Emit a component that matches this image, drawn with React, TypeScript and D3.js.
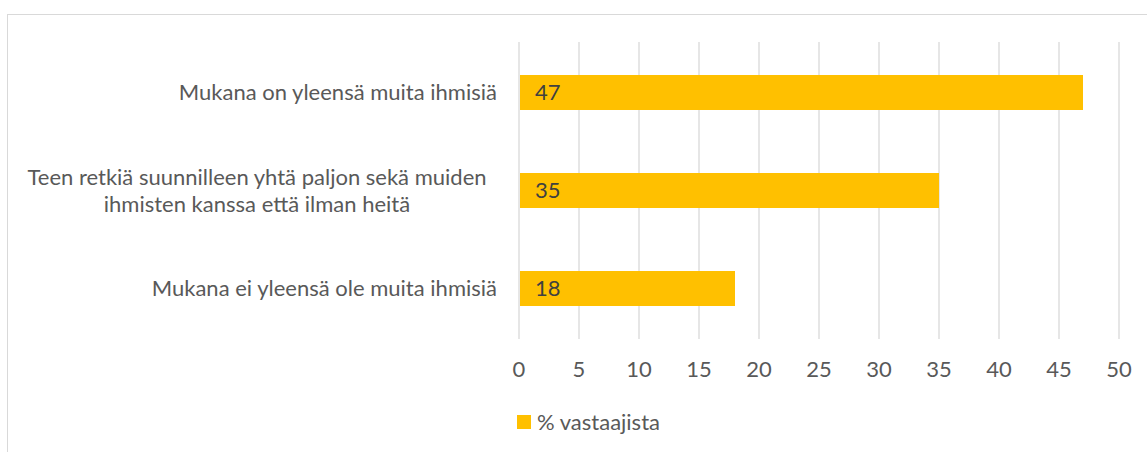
import React from "react";
import * as d3 from "d3";

const categories: string[][] = [
  ["Mukana on yleensä muita ihmisiä"],
  ["Teen retkiä suunnilleen yhtä paljon sekä muiden", "ihmisten kanssa että ilman heitä"],
  ["Mukana ei yleensä ole muita ihmisiä"],
];
const values: number[] = [47, 35, 18];
const xTicks: number[] = [0, 5, 10, 15, 20, 25, 30, 35, 40, 45, 50];
const seriesName = "% vastaajista";

const W = 1147;
const H = 452;
const FONT = "Lato, 'Open Sans', sans-serif";
const FS = 22;

export default function App() {
  const x = d3.scaleLinear().domain([0, 50]).range([519, 1119]);
  const y = d3
    .scaleBand<number>()
    .domain(d3.range(categories.length))
    .range([43.5, 337.5])
    .paddingInner(0.643)
    .paddingOuter(0.3215);
  const bw = y.bandwidth();

  return (
    <svg
      width={W}
      height={H}
      style={{ position: "absolute", left: 0, top: 0, background: "#fff" }}
      fontFamily={FONT}
    >
      <rect x={7.5} y={14.5} width={W + 10} height={H + 10} fill="#fff" stroke="#d9d9d9" strokeWidth={1} />
      {xTicks.map((t) => (
        <line key={"g" + t} x1={x(t)} x2={x(t)} y1={42} y2={339} stroke="#d9d9d9" strokeWidth={1.3} />
      ))}
      {values.map((v, i) => (
        <rect key={"b" + i} x={x(0) + 1} y={y(i)!} width={x(v) - x(0) - 1} height={bw} fill="#ffc000" />
      ))}
      {values.map((v, i) => (
        <text
          key={"l" + i}
          x={x(0) + 16}
          y={y(i)! + bw / 2}
          dy="0.35em"
          fontSize={FS}
          fill="#404040"
        >
          {v}
        </text>
      ))}
      {categories.map((lines, i) => {
        const c = y(i)! + bw / 2;
        const lh = 27;
        const start = c - ((lines.length - 1) * lh) / 2;
        return lines.map((ln, j) => (
          <text
            key={"c" + i + "-" + j}
            x={lines.length > 1 ? 257 : 497}
            y={start + j * lh}
            dy="0.35em"
            textAnchor={lines.length > 1 ? "middle" : "end"}
            fontSize={FS}
            fill="#595959"
          >
            {ln}
          </text>
        ));
      })}
      {xTicks.map((t) => (
        <text key={"t" + t} x={x(t)} y={369} dy="0.35em" textAnchor="middle" fontSize={FS} fill="#595959">
          {t}
        </text>
      ))}
      <rect x={517} y={415} width={14} height={14} fill="#ffc000" />
      <text x={537} y={422} dy="0.35em" fontSize={FS} fill="#595959">
        {seriesName}
      </text>
    </svg>
  );
}
